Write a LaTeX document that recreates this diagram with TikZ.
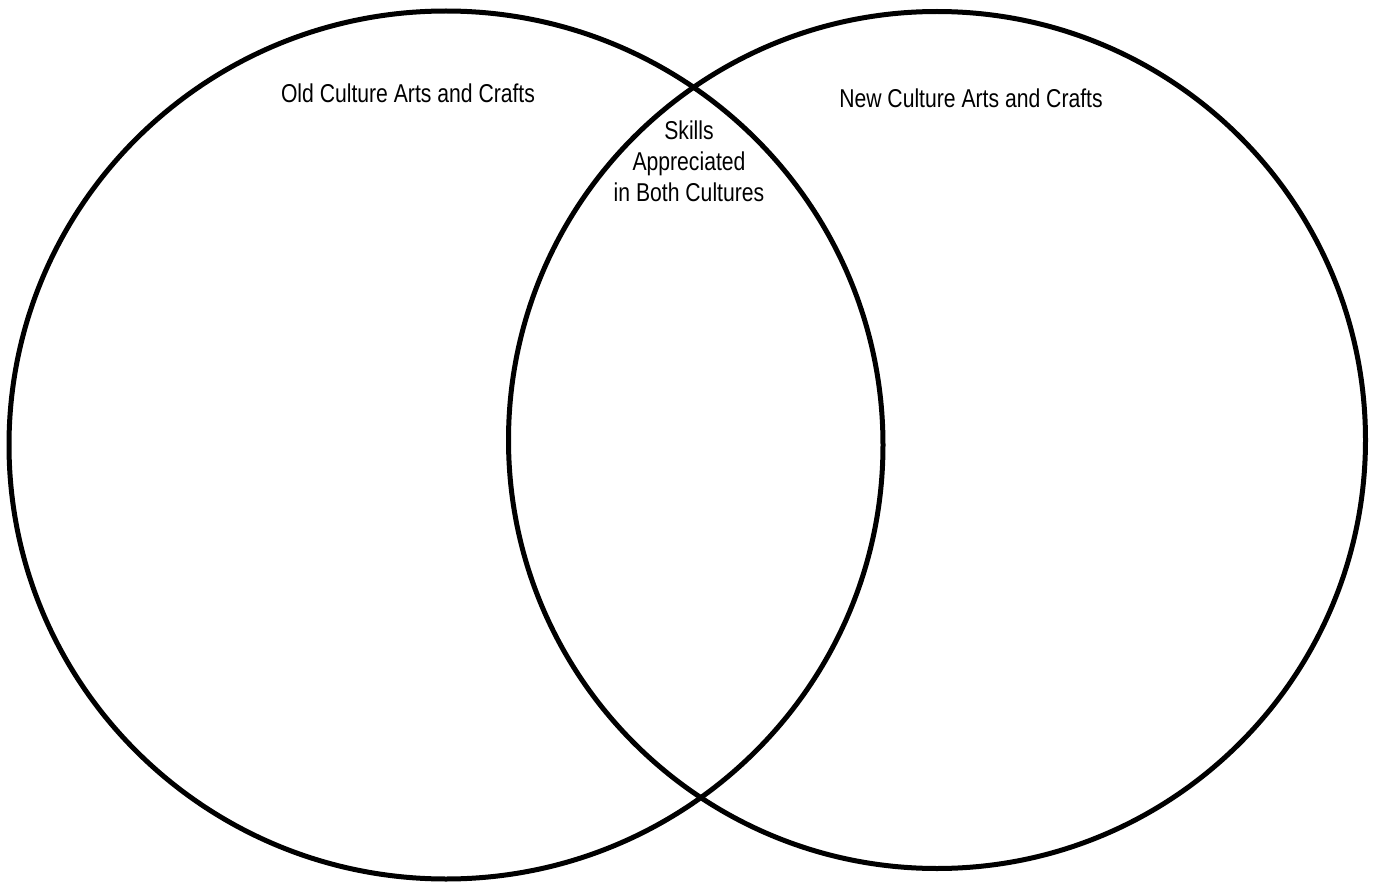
\documentclass[tikz,border=0pt]{standalone}
\usepackage{fontspec}
\setmainfont[FakeStretch=0.82]{Liberation Sans}
\usetikzlibrary{positioning}

\begin{document}
\begin{tikzpicture}[x=0.5pt, y=-0.5pt, ring/.style={draw, line width=2.5pt}, set label/.style={font=\fontsize{12.9pt}{15.5pt}\selectfont, inner sep=0pt, align=center}]
\useasboundingbox (0,0) rectangle (1377,888);
\coordinate (old) at (446,445);
\coordinate (new) at (937,440);
\draw[ring] (old) ellipse [x radius=437, y radius=434];
\draw[ring] (new) circle [radius=428.5];
\node[set label, anchor=base] (oldlabel) at (408,103) {Old Culture Arts and Crafts};
\node[set label, anchor=base] (newlabel) at (971,108) {New Culture Arts and Crafts};
\node[set label, anchor=north] (both) at (689,120) {Skills\\Appreciated\\in Both Cultures};
\end{tikzpicture}
\end{document}
